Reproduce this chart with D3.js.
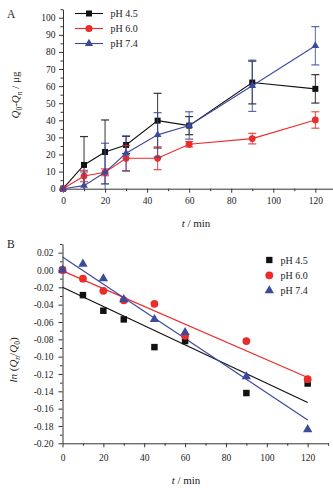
<!DOCTYPE html>
<html>
<head>
<meta charset="utf-8">
<script src="https://cdn.jsdelivr.net/npm/d3@7/dist/d3.min.js"></script>
<style>
  html, body { margin: 0; padding: 0; background: #fff; }
  svg { display: block; }
  text { font-family: "Liberation Serif", "DejaVu Serif", serif; fill: #222; }
</style>
</head>
<body>
<div id="chart"></div>
<script>
// release experiment - two stacked panels

// shared sampling times (min)
const times = [0, 10, 20, 30, 45, 60, 90, 120];
const seriesNames = ['pH 4.5', 'pH 6.0', 'pH 7.4'];

// panel A: Q0-Qn (μg), mean and error
const releaseA45 = [0, 13.9, 21.5, 25.6, 39.8, 36.9, 62.1, 58.4];
const releaseA60 = [0, 7.4, 9.6, 17.8, 17.8, 26.0, 29.3, 40.2];
const releaseA74 = [0, 1.8, 9.6, 20.7, 31.5, 37.0, 60.2, 83.6];
const errA45 = [0, 16.6, 18.7, 5.0, 16.0, 5.3, 12.5, 8.3];
const errA60 = [0, 3.3, 2.0, 7.5, 6.7, 1.6, 3.1, 4.8];
const errA74 = [0, 8.0, 17.0, 10.2, 13.0, 8.0, 15.0, 11.2];

// panel B: ln(Qn/Q0)
const lnB45 = [0, -0.029, -0.047, -0.057, -0.089, -0.082, -0.142, -0.131];
const lnB60 = [0, -0.010, -0.024, -0.035, -0.039, -0.076, -0.082, -0.126];
const lnB74 = [0, 0.007, -0.010, -0.034, -0.057, -0.072, -0.123, -0.184];

// fitted lines of panel B, read at t = 0 and t = 120
const fitT = [0, 120];
const fitB45 = [-0.020, -0.153];
const fitB60 = [-0.001, -0.124];
const fitB74 = [0.015, -0.173];

// axis ticks
const ticksAX = [0, 20, 40, 60, 80, 100, 120];
const minorAX = [10, 30, 50, 70, 90, 110];
const ticksAY = d3.range(0, 101, 10);
const minorAY = d3.range(5, 106, 10);
const ticksBX = [0, 20, 40, 60, 80, 100, 120];
const minorBX = [10, 30, 50, 70, 90, 110, 130];
const ticksBY = [-0.20, -0.18, -0.16, -0.14, -0.12, -0.10, -0.08, -0.06, -0.04, -0.02, 0.00, 0.02];
const minorBY = [-0.19, -0.17, -0.15, -0.13, -0.11, -0.09, -0.07, -0.05, -0.03, -0.01, 0.01, 0.03];

const colors = ['#111111', '#ec2b2b', '#3c4a9e'];
const symbols = [d3.symbolSquare, d3.symbolCircle, d3.symbolTriangle];

const W = 333, H = 489;
const svg = d3.select('#chart').append('svg')
  .attr('width', W)
  .attr('height', H);

// draw one axis pair with major + minor ticks
function drawAxes(x, y, yAxisX, xAxisY, opt) {
  const axisColor = '#333';

  const gx = svg.append('g').attr('transform', `translate(0,${xAxisY})`);
  gx.call(d3.axisBottom(x).tickValues(opt.xTicks).tickSize(4).tickSizeOuter(0)
    .tickPadding(opt.xPad).tickFormat(d3.format('d')));
  const gxm = svg.append('g').attr('transform', `translate(0,${xAxisY})`);
  gxm.call(d3.axisBottom(x).tickValues(opt.xMinor).tickSize(2.5).tickFormat(''));
  gxm.select('.domain').remove();

  const gy = svg.append('g').attr('transform', `translate(${yAxisX},0)`);
  gy.call(d3.axisLeft(y).tickValues(opt.yTicks).tickSize(4).tickSizeOuter(0)
    .tickPadding(opt.yPad).tickFormat(opt.yFormat));
  const gym = svg.append('g').attr('transform', `translate(${yAxisX},0)`);
  gym.call(d3.axisLeft(y).tickValues(opt.yMinor).tickSize(2.5).tickFormat(''));
  gym.select('.domain').remove();

  [gx, gxm, gy, gym].forEach(g => {
    g.selectAll('path, line').attr('stroke', axisColor).attr('stroke-width', 1);
    g.selectAll('text').attr('font-size', '9.5px')
      .attr('font-family', '"Liberation Serif", serif').attr('fill', '#222');
  });
}

// ---------- panel A ----------
const xA = d3.scaleLinear().domain([0, 128.4]).range([63, 333]);
const yA = d3.scaleLinear().domain([0, 105]).range([188.7, 9.2]);

drawAxes(xA, yA, 63, 188.7, {
  xTicks: ticksAX, xMinor: minorAX, xPad: 5,
  yTicks: ticksAY, yMinor: minorAY, yPad: 3.5,
  yFormat: d3.format('d')
});

const seriesA = [releaseA45, releaseA60, releaseA74];
const errA = [errA45, errA60, errA74];

seriesA.forEach((vals, s) => {
  const pts = times.map((t, i) => ({ t, v: vals[i], e: errA[s][i] }));
  const g = svg.append('g');

  // error bars
  pts.filter(d => d.e > 0).forEach(d => {
    const lo = Math.max(0, d.v - d.e);
    const hi = d.v + d.e;
    const cx = xA(d.t);
    g.append('line').attr('x1', cx).attr('x2', cx)
      .attr('y1', yA(lo)).attr('y2', yA(hi))
      .attr('stroke', colors[s]).attr('stroke-width', 1).attr('opacity', 0.85);
    const caps = [hi];
    if (d.v - d.e >= 0) caps.push(lo);
    caps.forEach(c => {
      g.append('line').attr('x1', cx - 4).attr('x2', cx + 4)
        .attr('y1', yA(c)).attr('y2', yA(c))
        .attr('stroke', colors[s]).attr('stroke-width', 1.2).attr('opacity', 0.85);
    });
  });

  // connecting line
  g.append('path').datum(pts)
    .attr('fill', 'none')
    .attr('stroke', colors[s])
    .attr('stroke-width', 1.1)
    .attr('d', d3.line().x(d => xA(d.t)).y(d => yA(d.v)));

  // markers
  const sizes = [36, 36, 26];
  g.selectAll('path.m').data(pts).enter().append('path')
    .attr('class', 'm')
    .attr('transform', d => `translate(${xA(d.t)},${yA(d.v)})`)
    .attr('d', d3.symbol().type(symbols[s]).size(sizes[s]))
    .attr('fill', colors[s]);
});

// legend A
seriesNames.forEach((name, i) => {
  const ly = 13.5 + i * 15;
  svg.append('line').attr('x1', 75).attr('x2', 103).attr('y1', ly).attr('y2', ly)
    .attr('stroke', colors[i]).attr('stroke-width', 1.1);
  svg.append('path')
    .attr('transform', `translate(89,${ly})`)
    .attr('d', d3.symbol().type(symbols[i]).size([36, 40, 30][i]))
    .attr('fill', colors[i]);
  svg.append('text').attr('x', 110.5).attr('y', ly + 3.5)
    .attr('font-size', '10px').text(name);
});

// panel A labels
svg.append('text').attr('x', 7).attr('y', 18).attr('font-size', '11.5px').text('A');

const labelA = svg.append('text')
  .attr('transform', 'translate(19,95) rotate(-90)')
  .attr('text-anchor', 'middle')
  .attr('font-size', '11px');
labelA.append('tspan').attr('font-style', 'italic').text('Q');
labelA.append('tspan').attr('font-size', '7.5px').attr('dy', 2.5).text('0');
labelA.append('tspan').attr('dy', -2.5).text('-');
labelA.append('tspan').attr('font-style', 'italic').text('Q');
labelA.append('tspan').attr('font-size', '7.5px').attr('font-style', 'italic').attr('dy', 2.5).text('n');
labelA.append('tspan').attr('dy', -2.5).text(' / μg');

const xLabelA = svg.append('text').attr('x', 196).attr('y', 227)
  .attr('text-anchor', 'middle').attr('font-size', '11px');
xLabelA.append('tspan').attr('font-style', 'italic').text('t');
xLabelA.append('tspan').text(' / min');

// ---------- panel B ----------
const xB = d3.scaleLinear().domain([0, 130]).range([62.5, 328.1]);
const yB = d3.scaleLinear().domain([-0.20, 0.03]).range([443.3, 244.0]);

drawAxes(xB, yB, 62.5, 443.3, {
  xTicks: ticksBX, xMinor: minorBX, xPad: 7,
  yTicks: ticksBY, yMinor: minorBY, yPad: 5,
  yFormat: v => Math.abs(v) < 1e-9 ? '0.00' : v.toFixed(2)
});

const seriesB = [lnB45, lnB60, lnB74];
const fitsB = [fitB45, fitB60, fitB74];

// fitted lines first
fitsB.forEach((f, s) => {
  svg.append('path').datum(fitT.map((t, i) => ({ t, v: f[i] })))
    .attr('fill', 'none')
    .attr('stroke', colors[s])
    .attr('stroke-width', 1.2)
    .attr('d', d3.line().x(d => xB(d.t)).y(d => yB(d.v)));
});

// points
seriesB.forEach((vals, s) => {
  const pts = times.map((t, i) => ({ t, v: vals[i] }));
  const sizes = [42, 48, 38];
  svg.append('g').selectAll('path').data(pts).enter().append('path')
    .attr('transform', d => `translate(${xB(d.t)},${yB(d.v)})`)
    .attr('d', d3.symbol().type(symbols[s]).size(sizes[s]))
    .attr('fill', colors[s]);
});

// legend B
seriesNames.forEach((name, i) => {
  const ly = 260 + i * 15.3;
  svg.append('path')
    .attr('transform', `translate(269.3,${ly})`)
    .attr('d', d3.symbol().type(symbols[i]).size([40, 48, 38][i]))
    .attr('fill', colors[i]);
  svg.append('text').attr('x', 280.5).attr('y', ly + 3.5)
    .attr('font-size', '10px').text(name);
});

svg.append('text').attr('x', 7).attr('y', 248).attr('font-size', '11.5px').text('B');

const labelB = svg.append('text')
  .attr('transform', 'translate(17,360) rotate(-90)')
  .attr('text-anchor', 'middle')
  .attr('font-size', '11px');
labelB.append('tspan').attr('font-style', 'italic').text('ln');
labelB.append('tspan').text(' (');
labelB.append('tspan').attr('font-style', 'italic').text('Q');
labelB.append('tspan').attr('font-size', '7.5px').attr('font-style', 'italic').attr('dy', 2.5).text('n');
labelB.append('tspan').attr('dy', -2.5).text('/');
labelB.append('tspan').attr('font-style', 'italic').text('Q');
labelB.append('tspan').attr('font-size', '7.5px').attr('dy', 2.5).text('0');
labelB.append('tspan').attr('dy', -2.5).text(')');

const xLabelB = svg.append('text').attr('x', 186).attr('y', 484)
  .attr('text-anchor', 'middle').attr('font-size', '11px');
xLabelB.append('tspan').attr('font-style', 'italic').text('t');
xLabelB.append('tspan').text(' / min');
</script>
</body>
</html>
